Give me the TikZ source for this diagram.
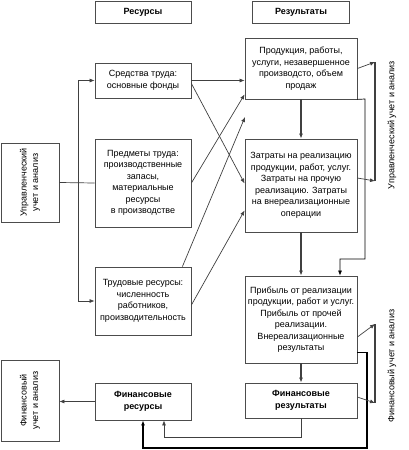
\documentclass[tikz,border=0pt]{standalone}
\usepackage{fontspec}
\setmainfont{Liberation Sans}
\usetikzlibrary{arrows.meta}
\begin{document}
\begin{tikzpicture}[x=1pt,y=-1pt,
  box/.style={draw=black!70, line width=0.8pt, fill=white, inner sep=1pt, align=center, font=\fontsize{9}{11.5}\selectfont},
  hdr/.style={font=\fontsize{9}{11.5}\selectfont\bfseries},
  lbl/.style={rotate=90, align=center, font=\fontsize{9}{11.5}\selectfont},
  con/.style={draw=black!75, line width=0.7pt},
  arr/.style={con, -{Latex[length=5pt,width=4pt]}},
  thk/.style={line width=1.3pt}]
\useasboundingbox (0,0) rectangle (408,450);

% headers
\node[box, hdr, minimum width=96pt, minimum height=22pt] (resH) at (143,12) {Ресурсы};
\node[box, hdr, minimum width=97pt, minimum height=22pt] (rezH) at (301,12) {Результаты};

% resources column
\node[box, minimum width=96pt, minimum height=35pt] (sred) at (143,80.5) {Средства труда:\\основные фонды};
\node[box, minimum width=96pt, minimum height=88pt] (pred) at (143,183) {Предметы труда:\\производственные\\запасы,\\материальные\\ресурсы\\в производстве};
\node[box, minimum width=96pt, minimum height=68pt] (trud) at (143,301) {Трудовые ресурсы:\\численность\\работников,\\производительность};
\node[box, hdr, minimum width=96pt, minimum height=37pt] (finres) at (143,401.5) {Финансовые\\ресурсы};

% left boxes (rotated)
\node[box, rotate=90, minimum width=79pt, minimum height=58pt] (upr) at (30,182.5) {Управленческий\\учет и анализ};
\node[box, rotate=90, minimum width=81pt, minimum height=58pt] (finuch) at (30,400.5) {Финансовый\\учет и анализ};

% results column
\node[box, minimum width=112pt, minimum height=61pt] (prod) at (301,68.5) {Продукция, работы,\\услуги, незавершенное\\производсто, объем\\продаж};
\node[box, minimum width=112pt, minimum height=93pt] (zatr) at (301,185.5) {Затраты на реализацию\\продукции, работ, услуг.\\Затраты на прочую\\реализацию. Затраты\\на внереализационные\\операции};
\node[box, minimum width=112pt, minimum height=87pt] (prib) at (301,319.5) {Прибыль от реализации\\продукции, работ и услуг.\\Прибыль от прочей\\реализации.\\Внереализационные\\результаты};
\node[box, hdr, minimum width=112pt, minimum height=35pt] (finrez) at (301,400.5) {Финансовые\\результаты};

% right labels
\node[lbl] (uprR) at (392,125) {Управленческий учет и анализ};
\node[lbl] (finR) at (392,366) {Финансовый учет и анализ};

% left connectors
\coordinate (lt) at (78,80.5);
\coordinate (lb) at (78,301);
\draw[con] (upr.south) -- (pred.west);
\draw[con, {Latex[length=5pt,width=4pt]}-{Latex[length=5pt,width=4pt]}] (sred.west) -- (lt) -- (lb) -- (trud.west);

% crossing connectors
\coordinate (gap) at (245,117);
\draw[arr] (sred.east) -- (sred.east -| prod.west);
\draw[arr] ([yshift=-3pt]sred.east) -- ([yshift=2pt]zatr.west);
\draw[arr] (pred.east) -- ([yshift=5pt]prod.south west);
\draw[arr] ([xshift=-9pt]trud.north east) -- (gap);
\draw[arr] ([yshift=-4pt]trud.east) -- ([yshift=22pt]zatr.south west);

% results chain
\draw[arr, thk] (prod.south) -- (zatr.north);
\draw[arr, thk] (zatr.south) -- (prib.north);
\draw[arr, thk] (prib.south) -- (finrez.north);
\coordinate (pr1) at (365,99);
\coordinate (pr2) at (365,259);
\coordinate (pr3) at (340,259);
\draw[arr, draw=black] (prod.south east) -- (pr1) -- (pr2) -- (pr3) -- (pr3 |- prib.north);

% bottom returns
\coordinate (pb) at (367,448);
\coordinate (fb) at (301,437);
\draw[arr, thk, draw=black] ([yshift=11pt]prib.south east) -| (pb) -| (finres.south);
\draw[arr] (finrez.south) -- (fb) -| ([xshift=21pt]finres.south);
\draw[arr] (finres.west) -- (finres.west -| finuch.south);

% right brackets
\coordinate (b1t) at (375,62);
\coordinate (b1b) at (375,181);
\coordinate (b2t) at (375,324);
\coordinate (b2b) at (375,403);
\draw[arr] (prod.east) -- (b1t);
\draw[arr] ([yshift=7.5pt]zatr.east) -- (b1b);
\draw[con, thk] (b1t) -- (b1b);
\draw[arr] ([yshift=-17.5pt]prib.east) -- (b2t);
\draw[arr] ([yshift=3.5pt]finrez.east) -- (b2b);
\draw[con, thk] (b2t) -- (b2b);
\end{tikzpicture}
\end{document}
